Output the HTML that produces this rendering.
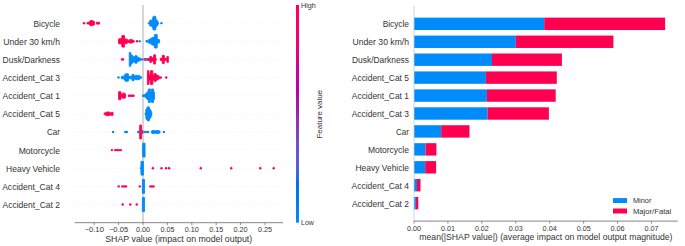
<!DOCTYPE html>
<html><head><meta charset="utf-8">
<style>
html,body{margin:0;padding:0;background:#fff;width:685px;height:246px;overflow:hidden}
svg{display:block}
text{font-family:"Liberation Sans",sans-serif;fill:#333333}
</style></head><body>
<svg width="685" height="246" viewBox="0 0 685 246">
<rect width="685" height="246" fill="#fff"/>
<line x1="74.5" y1="23.14" x2="283.0" y2="23.14" stroke="#cccccc" stroke-width="0.5" stroke-dasharray="0.35 1.45"/>
<line x1="74.5" y1="41.28" x2="283.0" y2="41.28" stroke="#cccccc" stroke-width="0.5" stroke-dasharray="0.35 1.45"/>
<line x1="74.5" y1="59.42" x2="283.0" y2="59.42" stroke="#cccccc" stroke-width="0.5" stroke-dasharray="0.35 1.45"/>
<line x1="74.5" y1="77.56" x2="283.0" y2="77.56" stroke="#cccccc" stroke-width="0.5" stroke-dasharray="0.35 1.45"/>
<line x1="74.5" y1="95.70" x2="283.0" y2="95.70" stroke="#cccccc" stroke-width="0.5" stroke-dasharray="0.35 1.45"/>
<line x1="74.5" y1="113.84" x2="283.0" y2="113.84" stroke="#cccccc" stroke-width="0.5" stroke-dasharray="0.35 1.45"/>
<line x1="74.5" y1="131.98" x2="283.0" y2="131.98" stroke="#cccccc" stroke-width="0.5" stroke-dasharray="0.35 1.45"/>
<line x1="74.5" y1="150.12" x2="283.0" y2="150.12" stroke="#cccccc" stroke-width="0.5" stroke-dasharray="0.35 1.45"/>
<line x1="74.5" y1="168.26" x2="283.0" y2="168.26" stroke="#cccccc" stroke-width="0.5" stroke-dasharray="0.35 1.45"/>
<line x1="74.5" y1="186.40" x2="283.0" y2="186.40" stroke="#cccccc" stroke-width="0.5" stroke-dasharray="0.35 1.45"/>
<line x1="74.5" y1="204.54" x2="283.0" y2="204.54" stroke="#cccccc" stroke-width="0.5" stroke-dasharray="0.35 1.45"/>
<line x1="143.0" y1="5.0" x2="143.0" y2="222.68" stroke="#999999" stroke-width="0.8"/>
<circle cx="84.00" cy="23.14" r="1.2" fill="#ff0051"/>
<polygon points="87.05,22.39 88.30,22.29 88.60,21.99 89.90,21.99 90.10,20.59 92.50,20.59 92.80,21.09 94.45,21.39 94.45,24.89 92.80,25.19 92.50,25.69 90.10,25.69 89.90,24.29 88.60,24.29 88.30,23.99 87.05,23.89" fill="#ff0051" stroke="#ff0051" stroke-width="0.9" stroke-linejoin="round"/>
<polygon points="96.35,22.19 99.55,22.19 99.55,24.09 96.35,24.09" fill="#ff0051" stroke="#ff0051" stroke-width="0.9" stroke-linejoin="round"/>
<polygon points="148.25,22.39 149.60,22.19 149.90,20.19 152.30,19.99 152.80,17.59 153.30,16.29 155.60,16.29 156.10,19.09 156.30,19.89 157.30,20.19 157.60,21.59 158.45,21.99 158.45,24.29 157.60,24.69 157.30,26.09 156.30,26.39 156.10,27.19 155.60,29.99 153.30,29.99 152.80,28.69 152.30,26.29 149.90,26.09 149.60,24.09 148.25,23.89" fill="#008bfb" stroke="#008bfb" stroke-width="0.9" stroke-linejoin="round"/>
<circle cx="161.40" cy="23.14" r="1.2" fill="#008bfb"/>
<polygon points="118.55,39.53 118.80,38.73 121.60,38.73 121.90,35.63 124.40,35.43 124.70,39.03 127.20,39.13 127.50,40.13 129.60,40.13 129.90,39.33 131.50,39.53 134.25,40.63 134.25,41.93 131.50,43.03 129.90,43.23 129.60,42.43 127.50,42.43 127.20,43.43 124.70,43.53 124.40,47.13 121.90,46.93 121.60,43.83 118.80,43.83 118.55,43.03" fill="#ff0051" stroke="#ff0051" stroke-width="0.9" stroke-linejoin="round"/>
<circle cx="137.05" cy="41.28" r="1.2" fill="#ff0051"/>
<circle cx="139.80" cy="41.28" r="1.2" fill="#008bfb"/>
<polygon points="145.95,40.53 148.30,40.43 148.80,39.33 150.40,39.03 151.50,37.83 154.20,37.13 154.60,34.53 157.10,34.53 157.40,39.33 159.55,39.73 159.55,42.83 157.40,43.23 157.10,48.03 154.60,48.03 154.20,45.43 151.50,44.73 150.40,43.53 148.80,43.23 148.30,42.13 145.95,42.03" fill="#008bfb" stroke="#008bfb" stroke-width="0.9" stroke-linejoin="round"/>
<polygon points="121.35,58.67 123.75,58.67 123.75,60.17 121.35,60.17" fill="#ff0051" stroke="#ff0051" stroke-width="0.9" stroke-linejoin="round"/>
<polygon points="129.25,53.07 129.20,52.47 130.60,52.47 131.20,54.87 132.60,55.47 132.80,56.67 134.80,56.67 135.20,55.57 136.90,55.67 137.30,57.27 138.90,57.37 139.30,58.07 140.80,58.17 141.10,58.67 142.55,58.77 142.55,60.07 141.10,60.17 140.80,60.67 139.30,60.77 138.90,61.47 137.30,61.57 136.90,63.17 135.20,63.27 134.80,62.17 132.80,62.17 132.60,63.37 131.20,63.97 130.60,66.37 129.20,66.37 129.25,65.77" fill="#008bfb" stroke="#008bfb" stroke-width="0.9" stroke-linejoin="round"/>
<polygon points="143.85,58.67 147.50,58.57 149.60,58.27 149.90,56.47 151.50,56.47 151.80,57.77 153.50,57.77 153.80,54.77 155.40,54.77 155.70,58.57 156.35,58.67 156.35,60.17 155.70,60.27 155.40,64.07 153.80,64.07 153.50,61.07 151.80,61.07 151.50,62.37 149.90,62.37 149.60,60.57 147.50,60.27 143.85,60.17" fill="#ff0051" stroke="#ff0051" stroke-width="0.9" stroke-linejoin="round"/>
<circle cx="145.20" cy="59.42" r="0.85" fill="#008bfb"/>
<circle cx="146.50" cy="59.42" r="0.85" fill="#008bfb"/>
<polygon points="160.35,58.37 162.10,58.27 162.40,55.37 164.20,55.37 164.50,58.47 166.70,58.47 167.00,56.47 168.35,56.47 168.35,62.37 167.00,62.37 166.70,60.37 164.50,60.37 164.20,63.47 162.40,63.47 162.10,60.57 160.35,60.47" fill="#ff0051" stroke="#ff0051" stroke-width="0.9" stroke-linejoin="round"/>
<circle cx="118.50" cy="77.56" r="1.2" fill="#008bfb"/>
<polygon points="121.35,76.41 124.20,76.21 124.50,74.71 125.30,74.51 125.50,73.81 128.30,73.81 128.60,76.31 131.80,76.31 132.10,74.51 134.00,74.41 134.20,76.11 135.40,76.11 135.60,75.41 139.50,75.51 139.70,76.51 141.55,76.81 141.55,78.31 139.70,78.61 139.50,79.61 135.60,79.71 135.40,79.01 134.20,79.01 134.00,80.71 132.10,80.61 131.80,78.81 128.60,78.81 128.30,81.31 125.50,81.31 125.30,80.61 124.50,80.41 124.20,78.91 121.35,78.71" fill="#008bfb" stroke="#008bfb" stroke-width="0.9" stroke-linejoin="round"/>
<polygon points="147.45,71.21 147.30,70.71 148.90,70.71 149.20,75.01 150.40,75.01 150.60,70.71 152.70,70.71 153.00,75.01 154.20,75.01 154.40,73.51 155.90,73.51 156.10,74.71 157.00,74.71 157.20,75.41 158.70,75.51 158.90,76.71 161.45,76.91 161.45,78.21 158.90,78.41 158.70,79.61 157.20,79.71 157.00,80.41 156.10,80.41 155.90,81.61 154.40,81.61 154.20,80.11 153.00,80.11 152.70,84.41 150.60,84.41 150.40,80.11 149.20,80.11 148.90,84.41 147.30,84.41 147.45,83.91" fill="#ff0051" stroke="#ff0051" stroke-width="0.9" stroke-linejoin="round"/>
<circle cx="166.20" cy="77.56" r="1.2" fill="#ff0051"/>
<polygon points="118.55,92.95 118.60,91.85 119.50,91.55 120.80,91.75 121.20,94.25 122.50,94.25 122.80,93.05 124.50,93.15 125.50,93.85 125.55,94.75 125.55,96.65 125.50,97.55 124.50,98.25 122.80,98.35 122.50,97.15 121.20,97.15 120.80,99.65 119.50,99.85 118.60,99.55 118.55,98.45" fill="#ff0051" stroke="#ff0051" stroke-width="0.9" stroke-linejoin="round"/>
<circle cx="128.90" cy="95.70" r="1.2" fill="#ff0051"/>
<circle cx="130.43" cy="95.70" r="1.2" fill="#ff0051"/>
<circle cx="131.97" cy="95.70" r="1.2" fill="#ff0051"/>
<circle cx="133.50" cy="95.70" r="1.2" fill="#ff0051"/>
<polygon points="142.55,94.95 144.40,94.75 146.20,93.15 148.20,91.25 148.50,88.95 150.30,88.95 150.50,91.55 151.40,91.55 151.60,88.95 153.40,88.95 153.60,91.65 154.45,91.95 154.45,99.45 153.60,99.75 153.40,102.45 151.60,102.45 151.40,99.85 150.50,99.85 150.30,102.45 148.50,102.45 148.20,100.15 146.20,98.25 144.40,96.65 142.55,96.45" fill="#008bfb" stroke="#008bfb" stroke-width="0.9" stroke-linejoin="round"/>
<polygon points="104.25,112.99 105.60,112.59 106.20,112.19 108.00,111.89 109.80,112.19 110.10,112.89 111.00,112.89 111.30,112.29 113.05,112.39 113.05,115.29 111.30,115.39 111.00,114.79 110.10,114.79 109.80,115.49 108.00,115.79 106.20,115.49 105.60,115.09 104.25,114.69" fill="#ff0051" stroke="#ff0051" stroke-width="0.9" stroke-linejoin="round"/>
<polygon points="145.05,113.09 145.70,112.79 146.00,108.79 147.20,107.79 147.60,106.79 149.20,106.79 149.60,108.79 150.70,109.49 151.10,111.29 151.75,111.79 151.75,115.89 151.10,116.39 150.70,118.19 149.60,118.89 149.20,120.89 147.60,120.89 147.20,119.89 146.00,118.89 145.70,114.89 145.05,114.59" fill="#008bfb" stroke="#008bfb" stroke-width="0.9" stroke-linejoin="round"/>
<circle cx="113.05" cy="131.98" r="1.2" fill="#008bfb"/>
<circle cx="125.30" cy="131.98" r="1.2" fill="#008bfb"/>
<circle cx="126.90" cy="131.98" r="1.2" fill="#008bfb"/>
<circle cx="138.40" cy="131.98" r="1.2" fill="#008bfb"/>
<circle cx="138.40" cy="131.98" r="1.2" fill="#008bfb"/>
<polygon points="139.35,130.63 139.60,130.23 139.80,125.03 141.40,125.03 141.60,130.23 142.85,130.63 142.85,133.33 141.60,133.73 141.40,138.93 139.80,138.93 139.60,133.73 139.35,133.33" fill="#ff0051" stroke="#ff0051" stroke-width="0.9" stroke-linejoin="round"/>
<circle cx="140.20" cy="131.98" r="0.9" fill="#008bfb"/>
<circle cx="144.60" cy="131.98" r="1.2" fill="#008bfb"/>
<circle cx="146.35" cy="131.98" r="1.2" fill="#008bfb"/>
<circle cx="148.10" cy="131.98" r="1.2" fill="#008bfb"/>
<polygon points="151.45,131.03 152.00,130.53 154.50,130.53 155.20,131.03 156.00,130.53 158.50,130.53 160.05,131.13 160.05,132.83 158.50,133.43 156.00,133.43 155.20,132.93 154.50,133.43 152.00,133.43 151.45,132.93" fill="#008bfb" stroke="#008bfb" stroke-width="0.9" stroke-linejoin="round"/>
<circle cx="163.90" cy="131.98" r="1.2" fill="#008bfb"/>
<circle cx="111.90" cy="150.12" r="1.2" fill="#ff0051"/>
<circle cx="115.20" cy="150.12" r="1.2" fill="#ff0051"/>
<circle cx="117.07" cy="150.12" r="1.2" fill="#ff0051"/>
<circle cx="118.93" cy="150.12" r="1.2" fill="#ff0051"/>
<circle cx="120.80" cy="150.12" r="1.2" fill="#ff0051"/>
<polygon points="142.45,149.27 142.60,149.07 142.70,143.17 145.05,143.17 145.05,157.07 142.70,157.07 142.60,151.17 142.45,150.97" fill="#008bfb" stroke="#008bfb" stroke-width="0.9" stroke-linejoin="round"/>
<polygon points="140.35,167.41 140.90,167.21 141.00,161.41 143.45,161.41 143.45,175.11 141.00,175.11 140.90,169.31 140.35,169.11" fill="#008bfb" stroke="#008bfb" stroke-width="0.9" stroke-linejoin="round"/>
<circle cx="152.90" cy="168.26" r="1.2" fill="#ff0051"/>
<circle cx="161.50" cy="168.26" r="1.2" fill="#ff0051"/>
<circle cx="166.05" cy="168.26" r="1.2" fill="#ff0051"/>
<circle cx="169.10" cy="168.26" r="1.2" fill="#ff0051"/>
<circle cx="200.80" cy="168.26" r="1.2" fill="#ff0051"/>
<circle cx="231.20" cy="168.26" r="1.2" fill="#ff0051"/>
<circle cx="260.20" cy="168.26" r="1.2" fill="#ff0051"/>
<circle cx="273.70" cy="168.26" r="1.2" fill="#ff0051"/>
<circle cx="118.70" cy="186.40" r="1.2" fill="#ff0051"/>
<circle cx="122.40" cy="186.40" r="1.2" fill="#ff0051"/>
<circle cx="124.10" cy="186.40" r="1.2" fill="#ff0051"/>
<circle cx="126.00" cy="186.40" r="1.2" fill="#ff0051"/>
<circle cx="139.80" cy="186.40" r="1.2" fill="#ff0051"/>
<polygon points="142.35,179.45 144.55,179.45 144.55,193.35 142.35,193.35" fill="#008bfb" stroke="#008bfb" stroke-width="0.9" stroke-linejoin="round"/>
<circle cx="150.30" cy="186.40" r="1.2" fill="#ff0051"/>
<circle cx="152.00" cy="186.40" r="1.2" fill="#ff0051"/>
<circle cx="153.60" cy="186.40" r="1.2" fill="#ff0051"/>
<circle cx="122.70" cy="204.54" r="1.2" fill="#ff0051"/>
<circle cx="130.30" cy="204.54" r="1.2" fill="#ff0051"/>
<circle cx="136.75" cy="204.54" r="1.2" fill="#ff0051"/>
<polygon points="142.35,197.59 144.55,197.59 144.55,211.49 142.35,211.49" fill="#008bfb" stroke="#008bfb" stroke-width="0.9" stroke-linejoin="round"/>
<line x1="74.5" y1="222.68" x2="283.0" y2="222.68" stroke="#333" stroke-width="0.6"/>
<line x1="94.20" y1="222.68" x2="94.20" y2="225.28" stroke="#333" stroke-width="0.5"/>
<text x="94.20" y="232.18" font-size="6.9" text-anchor="middle" textLength="19.5" lengthAdjust="spacingAndGlyphs">−0.10</text>
<line x1="118.60" y1="222.68" x2="118.60" y2="225.28" stroke="#333" stroke-width="0.5"/>
<text x="118.60" y="232.18" font-size="6.9" text-anchor="middle" textLength="19.4" lengthAdjust="spacingAndGlyphs">−0.05</text>
<line x1="143.00" y1="222.68" x2="143.00" y2="225.28" stroke="#333" stroke-width="0.5"/>
<text x="143.00" y="232.18" font-size="6.9" text-anchor="middle" textLength="14.1" lengthAdjust="spacingAndGlyphs">0.00</text>
<line x1="167.40" y1="222.68" x2="167.40" y2="225.28" stroke="#333" stroke-width="0.5"/>
<text x="167.40" y="232.18" font-size="6.9" text-anchor="middle" textLength="14.0" lengthAdjust="spacingAndGlyphs">0.05</text>
<line x1="191.80" y1="222.68" x2="191.80" y2="225.28" stroke="#333" stroke-width="0.5"/>
<text x="191.80" y="232.18" font-size="6.9" text-anchor="middle" textLength="14.1" lengthAdjust="spacingAndGlyphs">0.10</text>
<line x1="216.20" y1="222.68" x2="216.20" y2="225.28" stroke="#333" stroke-width="0.5"/>
<text x="216.20" y="232.18" font-size="6.9" text-anchor="middle" textLength="14.0" lengthAdjust="spacingAndGlyphs">0.15</text>
<line x1="240.60" y1="222.68" x2="240.60" y2="225.28" stroke="#333" stroke-width="0.5"/>
<text x="240.60" y="232.18" font-size="6.9" text-anchor="middle" textLength="14.1" lengthAdjust="spacingAndGlyphs">0.20</text>
<line x1="265.00" y1="222.68" x2="265.00" y2="225.28" stroke="#333" stroke-width="0.5"/>
<text x="265.00" y="232.18" font-size="6.9" text-anchor="middle" textLength="14.0" lengthAdjust="spacingAndGlyphs">0.25</text>
<text x="178.75" y="241.58" font-size="8.4" text-anchor="middle" textLength="147.0" lengthAdjust="spacingAndGlyphs">SHAP value (impact on model output)</text>
<text x="60.0" y="26.64" font-size="8.4" text-anchor="end" textLength="26.5" lengthAdjust="spacingAndGlyphs">Bicycle</text>
<text x="60.0" y="44.78" font-size="8.4" text-anchor="end" textLength="56.8" lengthAdjust="spacingAndGlyphs">Under 30 km/h</text>
<text x="60.0" y="62.92" font-size="8.4" text-anchor="end" textLength="57.4" lengthAdjust="spacingAndGlyphs">Dusk/Darkness</text>
<text x="60.0" y="81.06" font-size="8.4" text-anchor="end" textLength="57.6" lengthAdjust="spacingAndGlyphs">Accident_Cat 3</text>
<text x="60.0" y="99.20" font-size="8.4" text-anchor="end" textLength="57.5" lengthAdjust="spacingAndGlyphs">Accident_Cat 1</text>
<text x="60.0" y="117.34" font-size="8.4" text-anchor="end" textLength="57.6" lengthAdjust="spacingAndGlyphs">Accident_Cat 5</text>
<text x="60.0" y="135.48" font-size="8.4" text-anchor="end" textLength="13.0" lengthAdjust="spacingAndGlyphs">Car</text>
<text x="60.0" y="153.62" font-size="8.4" text-anchor="end" textLength="41.3" lengthAdjust="spacingAndGlyphs">Motorcycle</text>
<text x="60.0" y="171.76" font-size="8.4" text-anchor="end" textLength="53.9" lengthAdjust="spacingAndGlyphs">Heavy Vehicle</text>
<text x="60.0" y="189.90" font-size="8.4" text-anchor="end" textLength="57.8" lengthAdjust="spacingAndGlyphs">Accident_Cat 4</text>
<text x="60.0" y="208.04" font-size="8.4" text-anchor="end" textLength="57.5" lengthAdjust="spacingAndGlyphs">Accident_Cat 2</text>
<defs><linearGradient id="cb" x1="0" y1="0" x2="0" y2="1"><stop offset="0.000" stop-color="#ff0051"/><stop offset="0.030" stop-color="#ff0058"/><stop offset="0.061" stop-color="#fd005f"/><stop offset="0.091" stop-color="#fa0065"/><stop offset="0.121" stop-color="#f6006c"/><stop offset="0.152" stop-color="#f10072"/><stop offset="0.182" stop-color="#ec0078"/><stop offset="0.212" stop-color="#e7007e"/><stop offset="0.242" stop-color="#e10084"/><stop offset="0.273" stop-color="#db008a"/><stop offset="0.303" stop-color="#d40090"/><stop offset="0.333" stop-color="#cd0095"/><stop offset="0.364" stop-color="#c5009a"/><stop offset="0.394" stop-color="#bc009f"/><stop offset="0.424" stop-color="#b30aa3"/><stop offset="0.455" stop-color="#aa17a7"/><stop offset="0.485" stop-color="#a01fab"/><stop offset="0.515" stop-color="#9829b1"/><stop offset="0.545" stop-color="#9233b9"/><stop offset="0.576" stop-color="#8a3cc0"/><stop offset="0.606" stop-color="#8244c7"/><stop offset="0.636" stop-color="#794cce"/><stop offset="0.667" stop-color="#6f52d4"/><stop offset="0.697" stop-color="#6459da"/><stop offset="0.727" stop-color="#575fdf"/><stop offset="0.758" stop-color="#4664e4"/><stop offset="0.788" stop-color="#306ae9"/><stop offset="0.818" stop-color="#006fed"/><stop offset="0.848" stop-color="#0074f0"/><stop offset="0.879" stop-color="#0079f3"/><stop offset="0.909" stop-color="#007ef6"/><stop offset="0.939" stop-color="#0082f8"/><stop offset="0.970" stop-color="#0086fa"/><stop offset="1.000" stop-color="#008bfb"/><stop offset="1" stop-color="#008bfb"/></linearGradient></defs>
<rect x="296" y="5.0" width="3" height="217.68" fill="url(#cb)"/>
<text x="301" y="7.9" font-size="7.1" textLength="14.8" lengthAdjust="spacingAndGlyphs">High</text>
<text x="301" y="225.4" font-size="7.1" textLength="12.8" lengthAdjust="spacingAndGlyphs">Low</text>
<text transform="translate(322.2,114.2) rotate(-90)" font-size="7.8" text-anchor="middle" textLength="48.7" lengthAdjust="spacingAndGlyphs">Feature value</text>
<rect x="414.0" y="17.63" width="130.20" height="12.40" fill="#008bfb"/>
<rect x="544.2" y="17.63" width="120.90" height="12.40" fill="#ff0051"/>
<rect x="414.0" y="35.57" width="101.80" height="12.40" fill="#008bfb"/>
<rect x="515.8" y="35.57" width="97.60" height="12.40" fill="#ff0051"/>
<rect x="414.0" y="53.50" width="78.00" height="12.40" fill="#008bfb"/>
<rect x="492.0" y="53.50" width="69.90" height="12.40" fill="#ff0051"/>
<rect x="414.0" y="71.43" width="71.90" height="12.40" fill="#008bfb"/>
<rect x="485.9" y="71.43" width="70.90" height="12.40" fill="#ff0051"/>
<rect x="414.0" y="89.37" width="72.90" height="12.40" fill="#008bfb"/>
<rect x="486.9" y="89.37" width="68.80" height="12.40" fill="#ff0051"/>
<rect x="414.0" y="107.30" width="73.50" height="12.40" fill="#008bfb"/>
<rect x="487.5" y="107.30" width="61.40" height="12.40" fill="#ff0051"/>
<rect x="414.0" y="125.23" width="27.20" height="12.40" fill="#008bfb"/>
<rect x="441.2" y="125.23" width="28.30" height="12.40" fill="#ff0051"/>
<rect x="414.0" y="143.17" width="11.50" height="12.40" fill="#008bfb"/>
<rect x="425.5" y="143.17" width="10.90" height="12.40" fill="#ff0051"/>
<rect x="414.0" y="161.10" width="11.20" height="12.40" fill="#008bfb"/>
<rect x="425.2" y="161.10" width="10.90" height="12.40" fill="#ff0051"/>
<rect x="414.0" y="179.03" width="3.00" height="12.40" fill="#008bfb"/>
<rect x="417" y="179.03" width="3.50" height="12.40" fill="#ff0051"/>
<rect x="414.0" y="196.97" width="1.90" height="12.40" fill="#008bfb"/>
<rect x="415.9" y="196.97" width="2.40" height="12.40" fill="#ff0051"/>
<line x1="414.0" y1="5.9" x2="414.0" y2="221.1" stroke="#c8c8c8" stroke-width="0.8"/>
<line x1="414.0" y1="221.1" x2="677.8" y2="221.1" stroke="#333" stroke-width="0.6"/>
<line x1="414.00" y1="221.1" x2="414.00" y2="223.7" stroke="#333" stroke-width="0.5"/>
<text x="414.00" y="230.50" font-size="6.9" text-anchor="middle" textLength="14.1" lengthAdjust="spacingAndGlyphs">0.00</text>
<line x1="447.93" y1="221.1" x2="447.93" y2="223.7" stroke="#333" stroke-width="0.5"/>
<text x="447.93" y="230.50" font-size="6.9" text-anchor="middle" textLength="14.0" lengthAdjust="spacingAndGlyphs">0.01</text>
<line x1="481.86" y1="221.1" x2="481.86" y2="223.7" stroke="#333" stroke-width="0.5"/>
<text x="481.86" y="230.50" font-size="6.9" text-anchor="middle" textLength="13.9" lengthAdjust="spacingAndGlyphs">0.02</text>
<line x1="515.79" y1="221.1" x2="515.79" y2="223.7" stroke="#333" stroke-width="0.5"/>
<text x="515.79" y="230.50" font-size="6.9" text-anchor="middle" textLength="14.0" lengthAdjust="spacingAndGlyphs">0.03</text>
<line x1="549.72" y1="221.1" x2="549.72" y2="223.7" stroke="#333" stroke-width="0.5"/>
<text x="549.72" y="230.50" font-size="6.9" text-anchor="middle" textLength="14.2" lengthAdjust="spacingAndGlyphs">0.04</text>
<line x1="583.65" y1="221.1" x2="583.65" y2="223.7" stroke="#333" stroke-width="0.5"/>
<text x="583.65" y="230.50" font-size="6.9" text-anchor="middle" textLength="14.0" lengthAdjust="spacingAndGlyphs">0.05</text>
<line x1="617.58" y1="221.1" x2="617.58" y2="223.7" stroke="#333" stroke-width="0.5"/>
<text x="617.58" y="230.50" font-size="6.9" text-anchor="middle" textLength="14.2" lengthAdjust="spacingAndGlyphs">0.06</text>
<line x1="651.51" y1="221.1" x2="651.51" y2="223.7" stroke="#333" stroke-width="0.5"/>
<text x="651.51" y="230.50" font-size="6.9" text-anchor="middle" textLength="14.0" lengthAdjust="spacingAndGlyphs">0.07</text>
<text x="545.90" y="239.50" font-size="8.4" text-anchor="middle" textLength="253.2" lengthAdjust="spacingAndGlyphs">mean(|SHAP value|) (average impact on model output magnitude)</text>
<text x="409.0" y="27.23" font-size="8.4" text-anchor="end" textLength="26.3" lengthAdjust="spacingAndGlyphs">Bicycle</text>
<text x="409.0" y="45.17" font-size="8.4" text-anchor="end" textLength="56.5" lengthAdjust="spacingAndGlyphs">Under 30 km/h</text>
<text x="409.0" y="63.10" font-size="8.4" text-anchor="end" textLength="57.0" lengthAdjust="spacingAndGlyphs">Dusk/Darkness</text>
<text x="409.0" y="81.03" font-size="8.4" text-anchor="end" textLength="57.2" lengthAdjust="spacingAndGlyphs">Accident_Cat 5</text>
<text x="409.0" y="98.97" font-size="8.4" text-anchor="end" textLength="57.2" lengthAdjust="spacingAndGlyphs">Accident_Cat 1</text>
<text x="409.0" y="116.90" font-size="8.4" text-anchor="end" textLength="57.3" lengthAdjust="spacingAndGlyphs">Accident_Cat 3</text>
<text x="409.0" y="134.83" font-size="8.4" text-anchor="end" textLength="12.9" lengthAdjust="spacingAndGlyphs">Car</text>
<text x="409.0" y="152.77" font-size="8.4" text-anchor="end" textLength="41.1" lengthAdjust="spacingAndGlyphs">Motorcycle</text>
<text x="409.0" y="170.70" font-size="8.4" text-anchor="end" textLength="53.5" lengthAdjust="spacingAndGlyphs">Heavy Vehicle</text>
<text x="409.0" y="188.63" font-size="8.4" text-anchor="end" textLength="57.5" lengthAdjust="spacingAndGlyphs">Accident_Cat 4</text>
<text x="409.0" y="206.57" font-size="8.4" text-anchor="end" textLength="57.1" lengthAdjust="spacingAndGlyphs">Accident_Cat 2</text>
<rect x="613" y="198.1" width="14" height="4.9" fill="#008bfb"/>
<rect x="613" y="208.5" width="14" height="5.0" fill="#ff0051"/>
<text x="632.9" y="203.1" font-size="7.4" textLength="18.6" lengthAdjust="spacingAndGlyphs">Minor</text>
<text x="632.9" y="213.6" font-size="7.4" textLength="38.4" lengthAdjust="spacingAndGlyphs">Major/Fatal</text>
</svg>
</body></html>
